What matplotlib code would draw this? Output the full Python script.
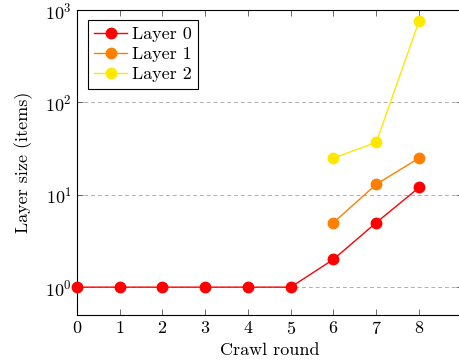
import matplotlib
matplotlib.use('Agg')
import matplotlib.pyplot as plt

plt.rcParams['font.family'] = 'serif'
plt.rcParams['font.serif'] = ['cmr10']
plt.rcParams['mathtext.fontset'] = 'cm'
plt.rcParams['axes.formatter.use_mathtext'] = True

# data
rounds_l0 = [0, 1, 2, 3, 4, 5, 6, 7, 8]
size_l0 = [1, 1, 1, 1, 1, 1, 2, 5, 12]
rounds_l1 = [6, 7, 8]
size_l1 = [5, 13, 25]
rounds_l2 = [6, 7, 8]
size_l2 = [25, 37, 760]

labels = ['Layer 0', 'Layer 1', 'Layer 2']
colors = ['#ff0000', '#ff8000', '#ffe800']

fig = plt.figure(figsize=(4.6, 3.62), dpi=100)
ax = fig.add_axes([0.167, 0.130, 0.837, 0.842])

series = [(rounds_l0, size_l0), (rounds_l1, size_l1), (rounds_l2, size_l2)]
for (x, y), lab, c in zip(series, labels, colors):
    ax.plot(x, y, color=c, marker='o', markersize=7.5, linewidth=1.0,
            label=lab, clip_on=False, zorder=3)

ax.set_yscale('log')
ax.set_xlim(0, 9)
ax.set_ylim(0.5, 1000)
ax.set_xticks(range(0, 9))
ax.set_yticks([1, 10, 100, 1000])
ax.minorticks_off()
ax.yaxis.grid(True, color='#b0b0b0', linestyle=(0, (4, 3)), linewidth=0.7)
ax.set_axisbelow(True)

ax.tick_params(direction='in', top=True, right=True, length=4,
               width=0.6, color='#555555', labelsize=13)
for s in ax.spines.values():
    s.set_linewidth(0.8)

ax.set_xlabel('Crawl round', fontsize=13, labelpad=4)
ax.set_ylabel('Layer size (items)', fontsize=13, labelpad=9)

leg = ax.legend(loc='upper left', fontsize=13, fancybox=False,
                edgecolor='black', framealpha=1, borderpad=0.35,
                handlelength=1.8, handletextpad=0.3, labelspacing=0.25,
                borderaxespad=0, bbox_to_anchor=(0.029, 0.967))
leg.get_frame().set_linewidth(0.8)

fig.savefig('out.png', dpi=100)
